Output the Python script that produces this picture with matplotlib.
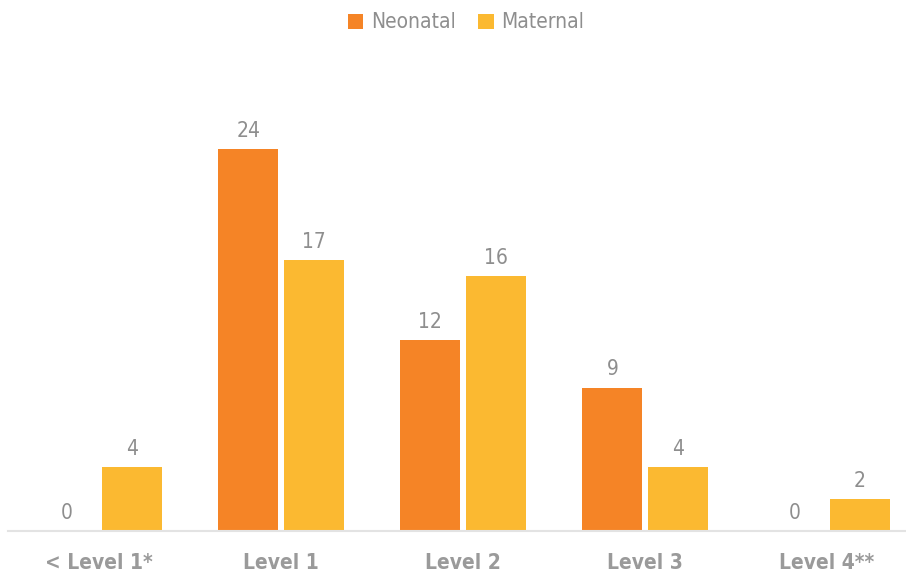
import matplotlib.pyplot as plt
import numpy as np

categories = ["< Level 1*", "Level 1", "Level 2", "Level 3", "Level 4**"]
neonatal = [0, 24, 12, 9, 0]
maternal = [4, 17, 16, 4, 2]

plt.rcParams["font.family"] = ["DejaVu Sans"]
plt.rcParams["font.stretch"] = "condensed"

orange = "#F58426"
yellow = "#FBB931"
label_gray = "#8E8E8E"
tick_gray = "#9A9A9A"

fig = plt.figure(figsize=(9.06, 5.75), dpi=100)
ax = fig.add_axes([8 / 906, 1 - 531 / 575, 1 - 8 / 906, (531 - 60) / 575])

x = np.arange(len(categories))
w = 0.33
off = 0.179
b1 = ax.bar(x - off, neonatal, w, color=orange, label="Neonatal")
b2 = ax.bar(x + off, maternal, w, color=yellow, label="Maternal")

for bars, vals in ((b1, neonatal), (b2, maternal)):
    for r, v in zip(bars, vals):
        ax.annotate(str(v), (r.get_x() + r.get_width() / 2, v), xytext=(0, 6),
                    textcoords="offset points", ha="center", va="bottom",
                    fontsize=15, color=label_gray)

ax.set_xlim(-0.5, 4.5 - 12 / 182)
ax.set_ylim(0, (531 - 60) / 15.92)
ax.set_xticks(x)
ax.set_xticklabels(categories, fontsize=15, fontweight="bold", color=tick_gray)
ax.tick_params(axis="x", length=0, pad=16)
ax.set_yticks([])
for s in ["top", "right", "left"]:
    ax.spines[s].set_visible(False)
ax.spines["bottom"].set_color("#E3E3E3")
ax.spines["bottom"].set_linewidth(1.5)

fig.legend(loc="upper center", bbox_to_anchor=(466 / 906, 1.0), ncol=2, frameon=False,
           fontsize=15, labelcolor=label_gray, handlelength=0.75, handleheight=0.75,
           handletextpad=0.35, columnspacing=1.1, borderaxespad=0.2)

fig.savefig("out.png", dpi=100)
